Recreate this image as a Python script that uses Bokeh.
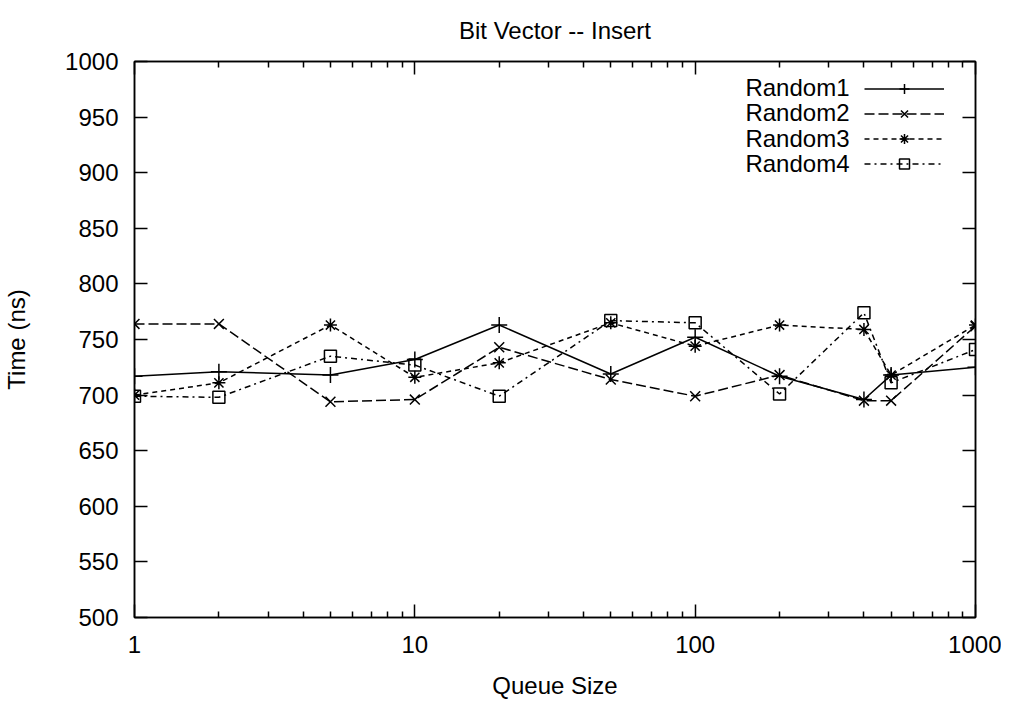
from bokeh.plotting import figure
from bokeh.models import (Range1d, FixedTicker, LogAxis, LinearAxis, Legend,
                          LegendItem, Label, PrintfTickFormatter, CustomLabelingPolicy)
from bokeh.embed import file_html
from bokeh.resources import INLINE

queue_size = [1, 2, 5, 10, 20, 50, 100, 200, 400, 500, 1000]
random1 = [717, 721, 718, 732, 763, 719, 752, 717, 696, 718, 725]
random2 = [764, 764, 694, 696, 743, 714, 699, 718, 695, 695, 762]
random3 = [700, 711, 763, 716, 729, 765, 744, 763, 759, 718, 763]
random4 = [699, 698, 735, 727, 699, 767, 765, 701, 774, 711, 741]
series_names = ["Random1", "Random2", "Random3", "Random4"]
x_major = [1, 10, 100, 1000]
x_minor = [m * d for d in (1, 10, 100) for m in range(2, 10)]
y_ticks = list(range(500, 1001, 50))
title_text = "Bit Vector -- Insert"

FONT = "Liberation Sans"
FS = "24px"
FW, FH = 841, 556

p = figure(x_axis_type="log", x_range=Range1d(1, 1000), y_range=Range1d(500, 1000),
           frame_width=FW, frame_height=FH,
           min_border_left=126, min_border_right=26, min_border_top=60, min_border_bottom=80,
           output_backend="svg", toolbar_location=None, title=title_text)
p.background_fill_color = "white"
p.border_fill_color = "white"
p.outline_line_color = "black"
p.outline_line_width = 1.5
p.grid.visible = False

p.title.align = "center"
p.title.text_font = FONT
p.title.text_font_size = FS
p.title.text_font_style = "normal"
p.title.text_color = "black"
p.title.text_line_height = 0.6
p.title.standoff = 28

no_labels = CustomLabelingPolicy(code="""
const arr = Array.from(indices)
for (const i of arr) indices.unset(i)
return indices
""")

def style_axis(ax, show_labels, major_len, minor_len):
    ax.axis_line_color = "black"
    ax.axis_line_width = 1.5
    ax.major_tick_line_color = "black"
    ax.major_tick_line_width = 1.5
    ax.minor_tick_line_color = "black"
    ax.minor_tick_line_width = 1.5
    ax.major_tick_in = major_len
    ax.major_tick_out = 0
    ax.minor_tick_in = minor_len
    ax.minor_tick_out = 0
    ax.major_label_text_font = FONT
    ax.major_label_text_color = "black"
    ax.major_label_text_font_size = FS
    ax.axis_label_text_font = FONT
    ax.axis_label_text_font_size = FS
    ax.axis_label_text_font_style = "normal"
    ax.axis_label_text_color = "black"
    if not show_labels:
        ax.major_label_policy = no_labels
        ax.major_label_text_font_size = "1px"
        ax.major_label_standoff = 0

xticker = FixedTicker(ticks=x_major, minor_ticks=x_minor)
yticker = FixedTicker(ticks=y_ticks, minor_ticks=[])

xa = p.xaxis[0]
xa.ticker = xticker
xa.formatter = PrintfTickFormatter(format="%d")
xa.axis_label = "Queue Size"
style_axis(xa, True, 13, 6)
xa.major_label_standoff = 18
xa.axis_label_standoff = 16

ya = p.yaxis[0]
ya.ticker = yticker
ya.axis_label = "Time (ns)"
style_axis(ya, True, 13, 0)
ya.major_label_standoff = 16
ya.axis_label_standoff = 32

top = LogAxis(ticker=xticker, formatter=PrintfTickFormatter(format="%d"))
style_axis(top, False, 13, 6)
p.add_layout(top, "above")
right = LinearAxis(ticker=yticker)
style_axis(right, False, 13, 0)
p.add_layout(right, "right")

styles = [
    dict(dash="solid", marker="cross", size=16),
    dict(dash="10 4", marker="x", size=14),
    dict(dash="5 4", marker="asterisk", size=13),
    dict(dash="6 4 2 4", marker="square", size=12),
]
data = [random1, random2, random3, random4]
items = []
for name, ys, st in zip(series_names, data, styles):
    ln = p.line(queue_size, ys, line_color="black", line_width=1.5, line_dash=st["dash"])
    sc = p.scatter(queue_size, ys, marker=st["marker"], size=st["size"],
                   line_color="black", line_width=1.5, fill_color=None)
    items.append(LegendItem(label=" ", renderers=[ln, sc]))

row_h = 25.5
legend_top = 543
legend = Legend(items=items, location=(730, legend_top - 4 * row_h), glyph_width=80,
                glyph_height=int(row_h), spacing=0, padding=0, margin=0, label_standoff=0,
                label_width=0, label_height=0, label_text_font_size="1px",
                border_line_color=None, background_fill_alpha=0)
p.add_layout(legend, "center")

for i, name in enumerate(series_names):
    p.add_layout(Label(x=715, y=legend_top - row_h / 2 - i * row_h, x_units="screen",
                       y_units="screen", text=name, text_align="right", text_baseline="middle",
                       text_font=FONT, text_font_size=FS, text_color="black"))

open("out.html", "w").write(file_html(p, INLINE))
